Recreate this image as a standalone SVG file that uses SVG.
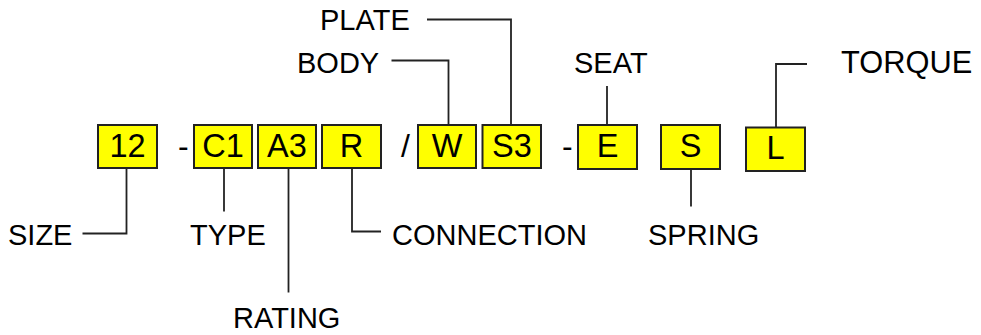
<svg xmlns="http://www.w3.org/2000/svg" width="981" height="335" viewBox="0 0 981 335">
<style>
.box rect{fill:#ffff00;stroke:#222;stroke-width:2}
.box text{font-family:"Liberation Sans",Arial,sans-serif;font-size:32.5px;fill:#000;text-anchor:middle}
.lbl{font-family:"Liberation Sans",Arial,sans-serif;font-size:29px;fill:#000}
.sep{font-family:"Liberation Sans",Arial,sans-serif;font-size:32px;fill:#000}
#connectors path{fill:none;stroke:#222;stroke-width:1.8}
</style>
<rect width="981" height="335" fill="#fff"/>
<g id="connectors">
<path d="M427 19.5H511V125"/>
<path d="M391.5 60.5H448.5V125"/>
<path d="M607 86V125"/>
<path d="M807 64H776V127.5"/>
<path d="M82.5 233.5H126.5V168"/>
<path d="M224 168V211.5"/>
<path d="M288.5 168V292.5"/>
<path d="M352 168V231.5H381"/>
<path d="M691 169V206.5"/>
</g>
<g id="box-12" class="box"><rect x="98" y="125" width="59" height="43"/><text x="127.5" y="157">12</text></g>
<g id="box-C1" class="box"><rect x="194" y="125" width="58" height="43"/><text x="223" y="157">C1</text></g>
<g id="box-A3" class="box"><rect x="258" y="125" width="58" height="43"/><text x="287" y="157">A3</text></g>
<g id="box-R" class="box"><rect x="322" y="125" width="59" height="43"/><text x="351.5" y="157">R</text></g>
<g id="box-W" class="box"><rect x="418" y="125" width="58" height="43"/><text x="447" y="157">W</text></g>
<g id="box-S3" class="box"><rect x="482.5" y="125" width="58.5" height="43"/><text x="512" y="157">S3</text></g>
<g id="box-E" class="box"><rect x="578" y="125" width="59" height="44"/><text x="607.5" y="157">E</text></g>
<g id="box-S" class="box"><rect x="661" y="125" width="59" height="44"/><text x="690.5" y="157">S</text></g>
<g id="box-L" class="box"><rect x="746" y="127.5" width="59" height="43.5"/><text x="775.5" y="159">L</text></g>
<g id="separators">
<text class="sep" x="178" y="157">-</text>
<text class="sep" x="401" y="157">/</text>
<text class="sep" x="562" y="157">-</text>
</g>
<g id="labels">
<text id="lbl-plate" class="lbl" x="320" y="30">PLATE</text>
<text id="lbl-body" class="lbl" x="297" y="72.7">BODY</text>
<text id="lbl-seat" class="lbl" x="574" y="72.7">SEAT</text>
<text id="lbl-torque" class="lbl" x="841" y="73" style="font-size:30.8px">TORQUE</text>
<text id="lbl-size" class="lbl" x="8" y="245">SIZE</text>
<text id="lbl-type" class="lbl" x="190" y="245">TYPE</text>
<text id="lbl-rating" class="lbl" x="233" y="328">RATING</text>
<text id="lbl-connection" class="lbl" x="392" y="245">CONNECTION</text>
<text id="lbl-spring" class="lbl" x="648" y="245">SPRING</text>
</g>
</svg>
